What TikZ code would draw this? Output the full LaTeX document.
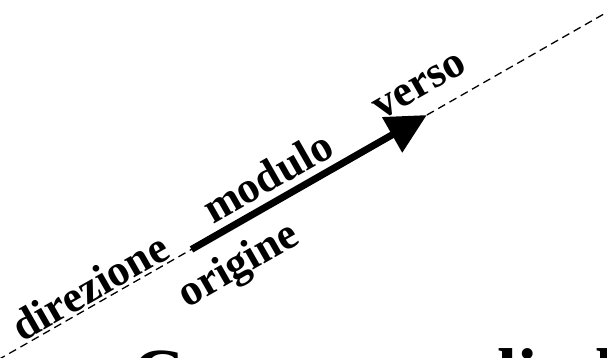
\documentclass[tikz,border=0pt]{standalone}
\usepackage{fontspec}
\setmainfont{Liberation Serif}
\usetikzlibrary{arrows.meta}
\tikzset{
  guide/.style={line width=1.3pt, dash pattern=on 8pt off 5pt},
  vec/.style={line width=7pt, -{Triangle[length=40pt,width=39pt]}},
  lbl/.style={inner sep=0pt, anchor=base, font=\fontsize{44}{50}\selectfont\bfseries},
  big/.style={inner sep=0pt, anchor=base west, font=\fontsize{72}{80}\selectfont\bfseries}
}
\begin{document}
\begin{tikzpicture}[x=1pt,y=1pt]
\useasboundingbox (0,0) rectangle (607,358);
\begin{scope}[shift={(10,5)}, rotate=29.72, transform shape]
  \coordinate (L0) at (-40,0);
  \coordinate (L1) at (720,0);
  \coordinate (O) at (209,0);
  \coordinate (T) at (480,0);
  \draw[guide] (L0) -- (L1);
  \draw[vec] (O) -- (T);
  \node[lbl] (dir) at (102,3) {direzione};
  \node[lbl] (mod) at (311,11) {modulo};
  \node[lbl] (ori) at (242,-49) {origine};
  \node[lbl] (ver) at (488,18) {verso};
\end{scope}
\node[big] (c) at (132,-41) {C};
\node[big] (li) at (497,-41) {li};
\node[big] (l) at (595,-41) {l};
\end{tikzpicture}
\end{document}
